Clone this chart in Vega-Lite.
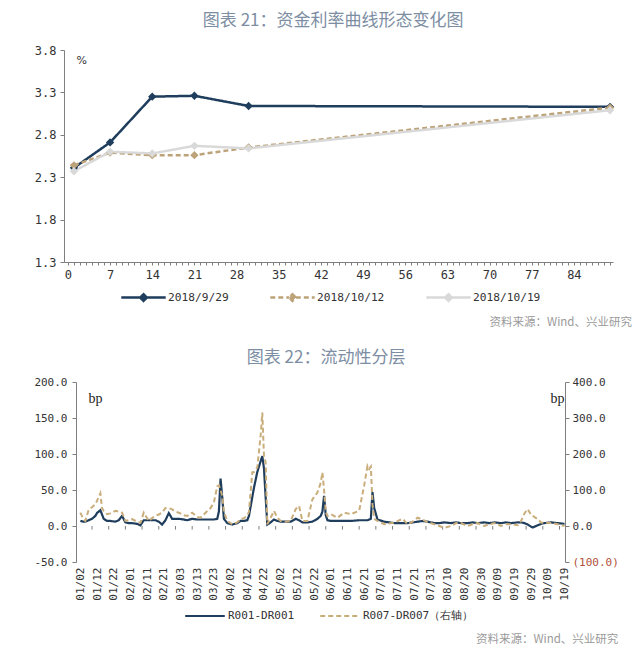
{
  "$schema": "https://vega.github.io/schema/vega-lite/v6.json",
  "background": "white",
  "padding": {"left": 33, "top": 12, "right": 5, "bottom": 5},
  "columns": 1,
  "align": "none",
  "spacing": 20,
  "resolve": {"scale": {"color": "independent", "strokeDash": "independent"}, "legend": {"color": "independent", "strokeDash": "independent"}},
  "config": {
    "view": {"stroke": null},
    "axis": {"grid": false, "domainColor": "#7f7f7f", "tickColor": "#7f7f7f", "labelColor": "#333333", "labelFont": "DejaVu Sans Mono", "labelFontSize": 11},
    "title": {"font": "Noto Sans CJK SC", "fontWeight": "normal"},
    "legend": {"labelFont": "DejaVu Sans Mono", "labelFontSize": 11, "labelColor": "#333333", "padding": 0}
  },
  "concat": [
    {
      "title": {"text": "图表 21：资金利率曲线形态变化图", "fontSize": 17, "color": "#7d8ea3", "anchor": "middle", "offset": 14},
      "resolve": {"scale": {"color": "independent", "strokeDash": "independent"}, "legend": {"color": "independent", "strokeDash": "independent"}},
      "vconcat": [
        {
          "width": 537,
          "height": 212,
          "title": {"text": "资料来源：Wind、兴业研究", "orient": "bottom", "anchor": "end", "fontSize": 11.5, "color": "#9a9a9a", "font": "Noto Sans CJK SC", "fontWeight": "normal", "offset": 11, "dx": 7},
          "data": {"values": [
            {"t": 1, "s": "2018/9/29", "v": 2.41},
            {"t": 7, "s": "2018/9/29", "v": 2.71},
            {"t": 14, "s": "2018/9/29", "v": 3.25},
            {"t": 21, "s": "2018/9/29", "v": 3.26},
            {"t": 30, "s": "2018/9/29", "v": 3.14},
            {"t": 90, "s": "2018/9/29", "v": 3.13},
            {"t": 1, "s": "2018/10/12", "v": 2.44},
            {"t": 7, "s": "2018/10/12", "v": 2.59},
            {"t": 14, "s": "2018/10/12", "v": 2.56},
            {"t": 21, "s": "2018/10/12", "v": 2.56},
            {"t": 30, "s": "2018/10/12", "v": 2.65},
            {"t": 90, "s": "2018/10/12", "v": 3.12},
            {"t": 1, "s": "2018/10/19", "v": 2.37},
            {"t": 7, "s": "2018/10/19", "v": 2.6},
            {"t": 14, "s": "2018/10/19", "v": 2.58},
            {"t": 21, "s": "2018/10/19", "v": 2.67},
            {"t": 30, "s": "2018/10/19", "v": 2.64},
            {"t": 90, "s": "2018/10/19", "v": 3.09}
          ]},
          "encoding": {
            "x": {"field": "t", "type": "quantitative", "scale": {"domain": [-0.65, 90.5], "range": [-12, 537], "nice": false, "zero": false},
              "axis": {"title": null, "values": [0,1,2,3,4,5,6,7,8,9,10,11,12,13,14,15,16,17,18,19,20,21,22,23,24,25,26,27,28,29,30,31,32,33,34,35,36,37,38,39,40,41,42,43,44,45,46,47,48,49,50,51,52,53,54,55,56,57,58,59,60,61,62,63,64,65,66,67,68,69,70,71,72,73,74,75,76,77,78,79,80,81,82,83,84,85,86,87,88,89,90],
                "labelExpr": "datum.value % 7 === 0 && datum.value <= 84 ? datum.label : ''", "labelOverlap": false, "labelBound": false, "labelFlush": false, "tickSize": 3, "labelPadding": 4, "labelFontSize": 12}},
            "y": {"field": "v", "type": "quantitative", "scale": {"domain": [1.3, 3.8], "nice": false, "zero": false},
              "axis": {"offset": 12, "values": [1.3, 1.8, 2.3, 2.8, 3.3, 3.8], "format": ".1f", "title": "%", "titleAngle": 0, "titleX": 12, "titleY": 10, "titleAlign": "left", "titleBaseline": "middle", "titleFont": "DejaVu Sans", "titleFontSize": 11, "titleFontWeight": "normal", "titleColor": "#333333", "tickSize": 4, "labelPadding": 4, "labelFontSize": 12}},
            "color": {"field": "s", "type": "nominal", "scale": {"domain": ["2018/9/29", "2018/10/12", "2018/10/19"], "range": ["#1f3d5c", "#bda37a", "#d9d9d9"]},
              "legend": {"title": null, "orient": "none", "legendX": 60, "legendY": 240, "direction": "horizontal", "symbolType": "M-3.7,0H-0.55M0.55,0H3.7M0,-0.55L0.55,0L0,0.55L-0.55,0Z", "symbolSize": 144, "symbolStrokeWidth": 2.5, "labelOffset": 17, "columnPadding": 36, "labelFontSize": 11.2,
                "encode": {"symbols": {"update": {"fill": {"scale": "color", "field": "value"}, "stroke": {"scale": "color", "field": "value"}}}}}}
          },
          "layer": [
            {"mark": {"type": "line", "strokeWidth": 2.5}, "encoding": {"strokeDash": {"field": "s", "type": "nominal", "scale": {"domain": ["2018/9/29", "2018/10/12", "2018/10/19"], "range": [[1, 0], [5, 3], [1, 0]]}, "legend": null}}},
            {"mark": {"type": "point", "shape": "diamond", "filled": true, "size": 70, "opacity": 1}}
          ]
        }
      ]
    },
    {
      "title": {"text": "图表 22：流动性分层", "fontSize": 17, "color": "#7d8ea3", "anchor": "middle", "offset": 9},
      "resolve": {"scale": {"color": "independent", "strokeDash": "independent"}, "legend": {"color": "independent", "strokeDash": "independent"}},
      "vconcat": [
        {
          "width": 489,
          "height": 180,
          "title": {"text": "资料来源：Wind、兴业研究", "orient": "bottom", "anchor": "end", "fontSize": 11.5, "color": "#9a9a9a", "font": "Noto Sans CJK SC", "fontWeight": "normal", "offset": 13},
          "data": {"values": [
            {"d":"2018/01/02","a":7,"b":37},{"d":"2018/01/04","a":6,"b":18},{"d":"2018/01/05","a":6,"b":14},{"d":"2018/01/07","a":8,"b":45},
            {"d":"2018/01/09","a":10,"b":52},{"d":"2018/01/11","a":14,"b":60},{"d":"2018/01/12","a":18,"b":70},{"d":"2018/01/14","a":22,"b":91},
            {"d":"2018/01/15","a":16,"b":50},{"d":"2018/01/16","a":10,"b":42},{"d":"2018/01/18","a":7,"b":33},{"d":"2018/01/20","a":7,"b":35},
            {"d":"2018/01/23","a":6,"b":42},{"d":"2018/01/25","a":8,"b":40},{"d":"2018/01/27","a":14,"b":37},{"d":"2018/01/29","a":5,"b":14},
            {"d":"2018/01/31","a":4,"b":16},{"d":"2018/02/02","a":4,"b":19},{"d":"2018/02/05","a":3,"b":12},{"d":"2018/02/07","a":1,"b":9},
            {"d":"2018/02/09","a":8,"b":37},{"d":"2018/02/12","a":8,"b":14},{"d":"2018/02/14","a":8,"b":22},{"d":"2018/02/16","a":8,"b":28},
            {"d":"2018/02/18","a":6,"b":32},{"d":"2018/02/20","a":2,"b":37},{"d":"2018/02/22","a":8,"b":50},{"d":"2018/02/24","a":18,"b":50},
            {"d":"2018/02/26","a":10,"b":46},{"d":"2018/02/28","a":10,"b":40},{"d":"2018/03/02","a":10,"b":37},{"d":"2018/03/05","a":9,"b":30},
            {"d":"2018/03/07","a":8,"b":28},{"d":"2018/03/10","a":10,"b":37},{"d":"2018/03/13","a":9,"b":25},{"d":"2018/03/15","a":9,"b":23},
            {"d":"2018/03/18","a":9,"b":37},{"d":"2018/03/21","a":9,"b":50},{"d":"2018/03/23","a":9,"b":65},{"d":"2018/03/25","a":10,"b":110},
            {"d":"2018/03/26","a":20,"b":113},{"d":"2018/03/27","a":66,"b":100},{"d":"2018/03/28","a":40,"b":84},{"d":"2018/03/29","a":10,"b":40},
            {"d":"2018/03/31","a":4,"b":14},{"d":"2018/04/03","a":2,"b":5},{"d":"2018/04/06","a":4,"b":10},{"d":"2018/04/08","a":7,"b":19},
            {"d":"2018/04/10","a":7,"b":22},{"d":"2018/04/12","a":8,"b":28},{"d":"2018/04/13","a":14,"b":40},{"d":"2018/04/15","a":40,"b":149},
            {"d":"2018/04/16","a":53,"b":150},{"d":"2018/04/18","a":75,"b":163},{"d":"2018/04/20","a":90,"b":250},{"d":"2018/04/21","a":97,"b":315},
            {"d":"2018/04/22","a":80,"b":195},{"d":"2018/04/23","a":40,"b":177},{"d":"2018/04/24","a":2,"b":5},{"d":"2018/04/26","a":5,"b":23},
            {"d":"2018/04/28","a":9,"b":42},{"d":"2018/04/30","a":7,"b":23},{"d":"2018/05/02","a":6,"b":14},{"d":"2018/05/05","a":6,"b":12},
            {"d":"2018/05/08","a":6,"b":14},{"d":"2018/05/11","a":10,"b":47},{"d":"2018/05/13","a":8,"b":56},{"d":"2018/05/15","a":5,"b":14},
            {"d":"2018/05/18","a":5,"b":14},{"d":"2018/05/21","a":6,"b":74},{"d":"2018/05/24","a":10,"b":93},{"d":"2018/05/26","a":14,"b":120},
            {"d":"2018/05/27","a":20,"b":149},{"d":"2018/05/28","a":42,"b":100},{"d":"2018/05/29","a":15,"b":40},{"d":"2018/05/30","a":8,"b":28},
            {"d":"2018/06/01","a":7,"b":33},{"d":"2018/06/05","a":7,"b":23},{"d":"2018/06/09","a":7,"b":37},{"d":"2018/06/13","a":7,"b":33},
            {"d":"2018/06/18","a":8,"b":42},{"d":"2018/06/21","a":8,"b":112},{"d":"2018/06/23","a":8,"b":167},{"d":"2018/06/24","a":9,"b":158},
            {"d":"2018/06/25","a":10,"b":165},{"d":"2018/06/26","a":47,"b":60},{"d":"2018/06/27","a":25,"b":20},{"d":"2018/06/29","a":9,"b":14},
            {"d":"2018/07/03","a":6,"b":5},{"d":"2018/07/09","a":4,"b":9},{"d":"2018/07/14","a":4,"b":20},{"d":"2018/07/17","a":4,"b":5},
            {"d":"2018/07/20","a":5,"b":12},{"d":"2018/07/23","a":6,"b":23},{"d":"2018/07/26","a":7,"b":18},{"d":"2018/07/29","a":6,"b":11},
            {"d":"2018/08/02","a":4,"b":5},{"d":"2018/08/05","a":4,"b":0},{"d":"2018/08/08","a":5,"b":-5},{"d":"2018/08/12","a":4,"b":0},
            {"d":"2018/08/15","a":5,"b":8},{"d":"2018/08/18","a":4,"b":8},{"d":"2018/08/22","a":4,"b":0},{"d":"2018/08/25","a":5,"b":5},
            {"d":"2018/08/28","a":4,"b":8},{"d":"2018/09/01","a":5,"b":0},{"d":"2018/09/04","a":4,"b":5},{"d":"2018/09/07","a":5,"b":8},
            {"d":"2018/09/11","a":4,"b":0},{"d":"2018/09/14","a":5,"b":5},{"d":"2018/09/17","a":4,"b":5},{"d":"2018/09/21","a":5,"b":2},
            {"d":"2018/09/23","a":5,"b":14},{"d":"2018/09/25","a":4,"b":35},{"d":"2018/09/27","a":2,"b":47},{"d":"2018/09/29","a":-1,"b":30},
            {"d":"2018/09/30","a":-2,"b":28},{"d":"2018/10/03","a":1,"b":19},{"d":"2018/10/05","a":3,"b":9},{"d":"2018/10/07","a":4,"b":9},
            {"d":"2018/10/11","a":5,"b":8},{"d":"2018/10/15","a":4,"b":5},{"d":"2018/10/19","a":3,"b":0}
          ]},
          "encoding": {
            "x": {"field": "d", "type": "temporal",
              "scale": {"domain": [{"year": 2017, "month": 12, "date": 30, "hours": 10}, {"year": 2018, "month": 10, "date": 19, "hours": 7}]},
              "axis": {"title": null, "format": "%m/%d", "labelAngle": -90, "domain": false, "ticks": false, "labelPadding": 5, "labelOverlap": false, "labelBound": false, "labelFlush": false, "labelFontSize": 11,
                "values": [
                  {"year":2018,"month":1,"date":2},{"year":2018,"month":1,"date":12},{"year":2018,"month":1,"date":22},
                  {"year":2018,"month":2,"date":1},{"year":2018,"month":2,"date":11},{"year":2018,"month":2,"date":21},
                  {"year":2018,"month":3,"date":3},{"year":2018,"month":3,"date":13},{"year":2018,"month":3,"date":23},
                  {"year":2018,"month":4,"date":2},{"year":2018,"month":4,"date":12},{"year":2018,"month":4,"date":22},
                  {"year":2018,"month":5,"date":2},{"year":2018,"month":5,"date":12},{"year":2018,"month":5,"date":22},
                  {"year":2018,"month":6,"date":1},{"year":2018,"month":6,"date":11},{"year":2018,"month":6,"date":21},
                  {"year":2018,"month":7,"date":1},{"year":2018,"month":7,"date":11},{"year":2018,"month":7,"date":21},{"year":2018,"month":7,"date":31},
                  {"year":2018,"month":8,"date":10},{"year":2018,"month":8,"date":20},{"year":2018,"month":8,"date":30},
                  {"year":2018,"month":9,"date":9},{"year":2018,"month":9,"date":19},{"year":2018,"month":9,"date":29},
                  {"year":2018,"month":10,"date":9},{"year":2018,"month":10,"date":19}
                ]}}
          },
          "layer": [
            {
              "encoding": {
                "y": {"scale": {"domain": [-50, 200], "nice": false, "zero": false},
                  "axis": {"orient": "left", "values": [-50, 0, 50, 100, 150, 200], "labelExpr": "(datum.value < 0 ? '-' : '') + format(abs(datum.value), '.1f')", "title": "bp", "titleAngle": 0, "titleX": 12, "titleY": 16, "titleAlign": "left", "titleBaseline": "middle", "titleFont": "Liberation Serif", "titleFontSize": 14, "titleFontWeight": "normal", "titleColor": "#222222", "tickSize": 4, "labelPadding": 5}}
              },
              "layer": [
                {"mark": {"type": "rule", "color": "#7f7f7f", "strokeWidth": 1}, "encoding": {"y": {"datum": 0, "type": "quantitative"}}},
                {
                  "data": {"values": [
                    {"k":"2018/01/09"},{"k":"2018/01/19"},{"k":"2018/01/29"},{"k":"2018/02/08"},{"k":"2018/02/18"},{"k":"2018/02/28"},
                    {"k":"2018/03/10"},{"k":"2018/03/20"},{"k":"2018/03/30"},{"k":"2018/04/09"},{"k":"2018/04/19"},{"k":"2018/04/29"},
                    {"k":"2018/05/09"},{"k":"2018/05/19"},{"k":"2018/05/29"},{"k":"2018/06/08"},{"k":"2018/06/18"},{"k":"2018/06/28"},
                    {"k":"2018/07/08"},{"k":"2018/07/18"},{"k":"2018/07/28"},{"k":"2018/08/07"},{"k":"2018/08/17"},{"k":"2018/08/27"},
                    {"k":"2018/09/06"},{"k":"2018/09/16"},{"k":"2018/09/26"},{"k":"2018/10/06"},{"k":"2018/10/16"}
                  ]},
                  "mark": {"type": "rule", "color": "#7f7f7f", "strokeWidth": 1},
                  "encoding": {"x": {"field": "k", "type": "temporal"}, "y": {"datum": 0, "type": "quantitative"}, "y2": {"datum": -5}}
                },
                {"mark": {"type": "line", "strokeWidth": 2.2},
                  "encoding": {"y": {"field": "a", "type": "quantitative"},
                    "color": {"datum": "R001-DR001", "scale": {"domain": ["R001-DR001", "R007-DR007（右轴）"], "range": ["#1f3d5c", "#c9ad7b"]},
                      "legend": {"title": null, "orient": "none", "legendX": 122, "legendY": 227, "direction": "horizontal", "symbolType": "M-3.3,0H3.3", "symbolSize": 144, "symbolStrokeWidth": 2, "labelOffset": 16, "columnPadding": 21, "labelFontSize": 11}},
                    "strokeDash": {"datum": "R001-DR001", "scale": {"domain": ["R001-DR001", "R007-DR007（右轴）"], "range": [[1, 0], [5, 3]]}}}}
              ]
            },
            {
              "mark": {"type": "line", "strokeWidth": 2},
              "encoding": {
                "y": {"field": "b", "type": "quantitative", "scale": {"domain": [-100, 400], "nice": false, "zero": false},
                  "axis": {"orient": "right", "values": [-100, 0, 100, 200, 300, 400], "labelExpr": "datum.value < 0 ? '(' + format(-datum.value, '.1f') + ')' : format(datum.value, '.1f')",
                    "labelColor": {"condition": {"test": "datum.value < 0", "value": "#b0503a"}, "value": "#333333"},
                    "title": "bp", "titleAngle": 0, "titleX": -1, "titleY": 16, "titleAlign": "right", "titleBaseline": "middle", "titleFont": "Liberation Serif", "titleFontSize": 14, "titleFontWeight": "normal", "titleColor": "#222222", "tickSize": 4, "labelPadding": 3}},
                "color": {"datum": "R007-DR007（右轴）"},
                "strokeDash": {"datum": "R007-DR007（右轴）"}
              }
            }
          ],
          "resolve": {"scale": {"y": "independent"}}
        }
      ]
    }
  ]
}
